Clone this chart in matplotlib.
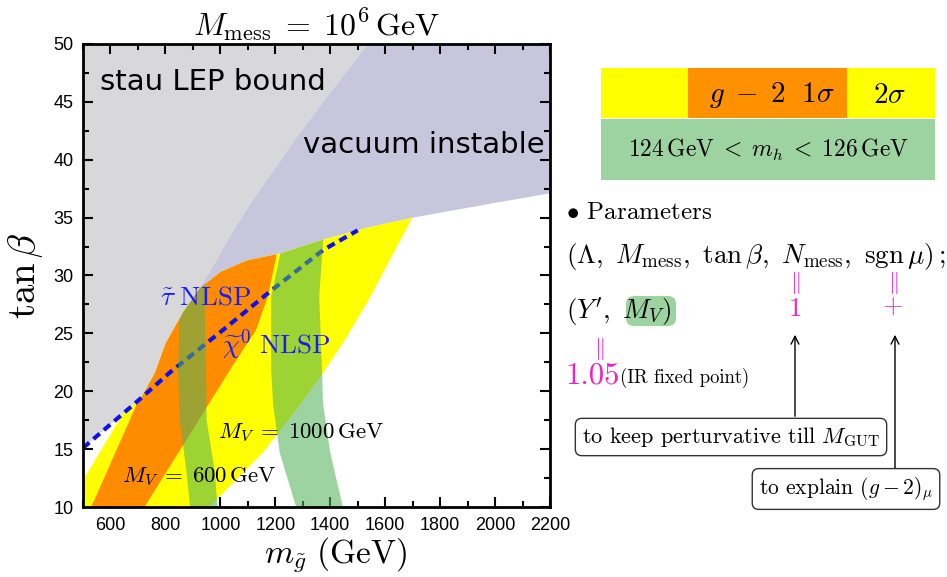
import matplotlib.pyplot as plt
import matplotlib.patches as mpatches
from matplotlib.ticker import MultipleLocator

plt.rcParams['mathtext.fontset'] = 'cm'

# region boundaries: gluino mass (GeV) vs tan beta
stau_x = [500, 600, 711, 762, 802, 864, 925]
stau_y = [15.1, 17.1, 19.4, 21.6, 24.2, 26.8, 28.9]
vac_lo_x = [925, 1000, 1096, 1217, 1374, 1530, 1701, 2006, 2200]
vac_lo_y = [28.9, 30.3, 31.3, 31.9, 33.1, 34.1, 35.0, 36.3, 37.1]
vac_up_x = [925, 985, 1045, 1120, 1200, 1280, 1400, 1537]
vac_up_y = [28.9, 31.3, 33.8, 36.6, 39.3, 42.0, 45.8, 50.0]

# g-2 2 sigma (yellow) and 1 sigma (orange)
yel_l_x = [500, 657, 720]
yel_l_y = [12.3, 18.55, 21.0]
yel_r_x = [960, 1155, 1276, 1374, 1450, 1540, 1701, 1760]
yel_r_y = [10, 14.7, 18.4, 21.6, 24.3, 27.9, 35.1, 37.8]
or_l_x = [530, 670, 800, 850]
or_l_y = [10, 17.5, 24.5, 27.5]
or_r_x = [724, 1034, 1130, 1173, 1203, 1225]
or_r_y = [10, 21.8, 25.3, 28.2, 31.6, 35.0]

# 124 < m_h < 126 GeV bands
mv600_l_x = [890, 876, 852, 846, 852, 865]
mv600_r_x = [990, 979, 950, 948, 943, 950]
mv600_y = [10, 13.2, 17.5, 21.8, 26.8, 32]
mv1000_l_x = [1276, 1216, 1192, 1185, 1185, 1216, 1240]
mv1000_r_x = [1446, 1400, 1374, 1370, 1360, 1370, 1380]
mv1000_y = [10, 14.7, 18.9, 21.8, 28.2, 31.6, 35]

# stau / neutralino NLSP line
nlsp_x = [500, 711, 815, 1010, 1180, 1374, 1500]
nlsp_y = [15.1, 19.4, 21.6, 25.3, 28.6, 32.2, 33.9]

xticks = [600, 800, 1000, 1200, 1400, 1600, 1800, 2000, 2200]
yticks = [10, 15, 20, 25, 30, 35, 40, 45, 50]

fig = plt.figure(figsize=(9.47, 5.77), dpi=100)
ax = fig.add_axes([83 / 947, 1 - 507 / 577, 467 / 947, 463 / 577])
ax.set_xlim(500, 2200)
ax.set_ylim(10, 50)

allowed = ([(500, 10)] + list(zip(stau_x, stau_y))
           + list(zip(vac_lo_x[1:], vac_lo_y[1:])) + [(2200, 10)])
clip = mpatches.Polygon(allowed, closed=True, transform=ax.transData)

gray = list(zip(stau_x, stau_y)) + list(zip(vac_up_x[1:], vac_up_y[1:])) + [(500, 50)]
lav = (list(zip(vac_up_x, vac_up_y)) + [(2200, 50)]
       + list(zip(vac_lo_x[::-1], vac_lo_y[::-1]))[:-1])
ax.add_patch(mpatches.Polygon(gray, closed=True, fc='#d8d8db', ec='none', zorder=1))
ax.add_patch(mpatches.Polygon(lav, closed=True, fc='#c6c7dc', ec='none', zorder=1))

yel = ([(500, 10)] + list(zip(yel_r_x, yel_r_y))
       + [(yel_r_x[-1], 48), (yel_l_x[-1], 48)]
       + list(zip(yel_l_x[::-1], yel_l_y[::-1])))
orn = (list(zip(or_r_x, or_r_y)) + [(or_r_x[-1], 48), (or_l_x[-1], 48)]
       + list(zip(or_l_x[::-1], or_l_y[::-1])))
for pts, col, z in [(yel, '#ffff00', 2), (orn, '#ff8c00', 3)]:
    p = mpatches.Polygon(pts, closed=True, fc=col, ec='none', zorder=z)
    ax.add_patch(p)
    p.set_clip_path(clip)

ax.plot(nlsp_x, nlsp_y, color='#1010ee', lw=3, dashes=(2, 1.3), zorder=4)

green = (0.33, 0.70, 0.35, 0.57)
for lx, rx, ys in [(mv600_l_x, mv600_r_x, mv600_y), (mv1000_l_x, mv1000_r_x, mv1000_y)]:
    pts = list(zip(lx, ys)) + list(zip(rx[::-1], ys[::-1]))
    p = mpatches.Polygon(pts, closed=True, fc=green, ec='none', zorder=5)
    ax.add_patch(p)
    p.set_clip_path(clip)

# labels inside the plot
ax.text(562, 46.7, 'stau LEP bound', fontsize=21, va='center', zorder=6)
ax.text(1301, 41.3, 'vacuum instable', fontsize=21, va='center', zorder=6)
ax.text(780, 28.1, r'$\tilde{\tau}\ \mathrm{NLSP}$', color='#1a1aff', fontsize=19.5,
        va='center', zorder=6)
ax.text(1006, 24.0, r'$\widetilde{\chi}^0\ \mathrm{NLSP}$', color='#1a1aff', fontsize=19.5,
        va='center', zorder=6)
ax.text(991, 16.4, r'$M_V\;=\;1000\,\mathrm{GeV}$', fontsize=16.5, va='center', zorder=6)
ax.text(642, 12.6, r'$M_V\;=\;600\,\mathrm{GeV}$', fontsize=16.5, va='center', zorder=6)

ax.set_title(r'$M_{\rm mess}\;=\;10^6\,\mathrm{GeV}$', fontsize=23, pad=6)
ax.set_xlabel(r'$m_{\tilde{g}}\ (\mathrm{GeV})$', fontsize=24)
ax.xaxis.set_label_coords(0.54, -0.062)
ax.set_ylabel(r'$\tan\beta$', fontsize=28, labelpad=6)

ax.set_xticks(xticks)
ax.set_yticks(yticks)
ax.xaxis.set_minor_locator(MultipleLocator(100))
ax.yaxis.set_minor_locator(MultipleLocator(2.5))
ax.tick_params(which='both', direction='in', top=True, right=True, width=1.5,
               labelsize=13, labelfontfamily='Liberation Sans')
ax.tick_params(which='major', length=7, pad=7)
ax.tick_params(which='minor', length=4)
for s in ax.spines.values():
    s.set_linewidth(2)
    s.set_zorder(7)


# right-hand panel, positions in pixels from the top-left corner
def P(x, y):
    return (x / 100, (577 - y) / 100)


tr = fig.dpi_scale_trans
for x0, y0, w, h, col in [(601, 68, 334, 50, '#ffff00'), (688, 68, 159, 50, '#ff9000'),
                          (601, 119, 334, 61, '#9dd3a0')]:
    fig.add_artist(mpatches.Rectangle(P(x0, y0 + h), w / 100, h / 100, fc=col, ec='none',
                                      transform=tr))
fig.text(*P(772, 95), r'$g\;-\;2\ \ 1\sigma$', fontsize=21, ha='center', va='center',
         transform=tr)
fig.text(*P(890, 95), r'$2\sigma$', fontsize=21, ha='center', va='center', transform=tr)
fig.text(*P(768, 150), r'$124\,\mathrm{GeV}\;<\;m_h\;<\;126\,\mathrm{GeV}$', fontsize=17,
         ha='center', va='center', transform=tr)

fig.text(*P(566, 213), r'$\bullet$ Parameters', fontsize=18, family='cmr10',
         va='center', transform=tr)
fig.text(*P(566, 257), r'$(\Lambda,\ M_{\rm mess},\ \tan\beta,\ N_{\rm mess},\ {\rm sgn}\,\mu)\,;$',
         fontsize=19.5, va='center', transform=tr)

fig.add_artist(mpatches.FancyBboxPatch(P(628, 324), 0.46, 0.26,
                                       boxstyle='round,pad=0.02,rounding_size=0.08',
                                       fc='#9dd3a0', ec='none', transform=tr))
fig.text(*P(566, 312), r"$(Y',\ M_V)$", fontsize=19.5, va='center', transform=tr)

magenta = '#f020c8'
for x, y in [(795, 283), (893, 283), (599, 349)]:
    fig.text(*P(x, y), r'$\Vert$', color=magenta, fontsize=16,
             ha='center', va='center', transform=tr)
fig.text(*P(795, 309), '1', color=magenta, fontsize=19, family='cmr10',
         ha='center', va='center', transform=tr)
fig.text(*P(893, 307), '+', color=magenta, fontsize=19, family='cmr10',
         ha='center', va='center', transform=tr)
fig.text(*P(565, 376), '1.05', color=magenta, fontsize=22, family='cmr10',
         va='center', transform=tr)
fig.text(*P(620, 378), '(IR fixed point)', fontsize=13.5, family='cmr10',
         va='center', transform=tr)

for x, y in [(795, 419), (895, 471)]:
    fig.add_artist(mpatches.FancyArrowPatch(P(x, y), P(x, 332), arrowstyle='->',
                                            mutation_scale=14, lw=1, color='k',
                                            transform=tr))

box = dict(boxstyle='round,pad=0.3', fc='white', ec='#333333', lw=1)
fig.text(*P(731, 437), r'to keep perturvative till $M_{\rm GUT}$', fontsize=16,
         family='cmr10', ha='center', va='center', bbox=box, transform=tr)
fig.text(*P(846, 489), r'to explain $(g-2)_\mu$', fontsize=15.5, family='cmr10',
         ha='center', va='center', bbox=box, transform=tr)

fig.savefig('out.png', dpi=100)
